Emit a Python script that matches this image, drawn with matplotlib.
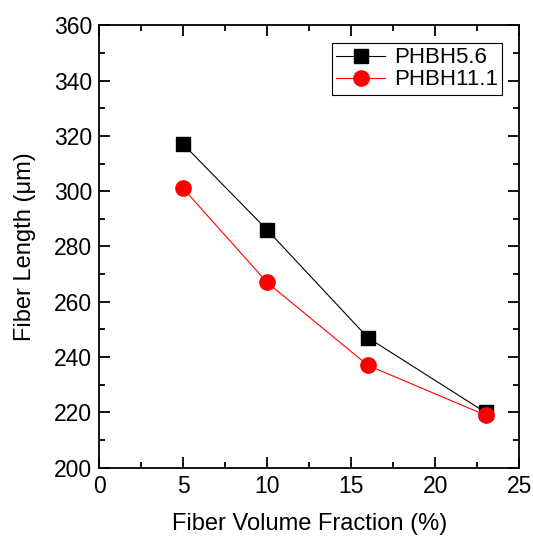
import numpy as np
import matplotlib
matplotlib.use('Agg')
from matplotlib import pyplot as plt
from matplotlib.ticker import MultipleLocator

plt.rcParams['font.family'] = ['Liberation Sans', 'DejaVu Sans']

#------------------------------------------------------------
# data
volume_fraction = [5, 10, 16, 23]
length_56 = [317, 286, 247, 220]
length_111 = [301, 267, 237, 219]

#------------------------------------------------------------
fig = plt.figure(figsize=(5.33, 5.37), dpi=100)
ax = fig.add_axes([0.186, 0.129, 0.788, 0.824])

ax.plot(volume_fraction, length_56, '-', color='black', lw=0.8,
        marker='s', ms=9.5, label='PHBH5.6')
ax.plot(volume_fraction, length_111, '-', color='red', lw=0.8,
        marker='o', ms=11, label='PHBH11.1')

ax.set_xlim(0, 25)
ax.set_ylim(200, 360)
ax.xaxis.set_major_locator(MultipleLocator(5))
ax.xaxis.set_minor_locator(MultipleLocator(2.5))
ax.yaxis.set_major_locator(MultipleLocator(20))
ax.yaxis.set_minor_locator(MultipleLocator(10))
ax.tick_params(which='both', direction='in', top=True, right=True,
               labelsize=16.5, width=1.3, pad=5)
ax.tick_params(which='major', length=8)
ax.tick_params(which='minor', length=4.5)
for sp in ax.spines.values():
    sp.set_linewidth(1.3)

ax.set_xlabel('Fiber Volume Fraction (%)', fontsize=17, labelpad=11)
ax.set_ylabel('Fiber Length (μm)', fontsize=17, labelpad=13)

leg = ax.legend(loc='upper right', fontsize=16, fancybox=False,
                edgecolor='black', framealpha=1,
                bbox_to_anchor=(0.96, 0.96),
                handlelength=2.2, borderpad=0.2, labelspacing=0.05,
                handletextpad=0.4, borderaxespad=0)
leg.get_frame().set_linewidth(0.8)

plt.savefig('out.png', dpi=100)
